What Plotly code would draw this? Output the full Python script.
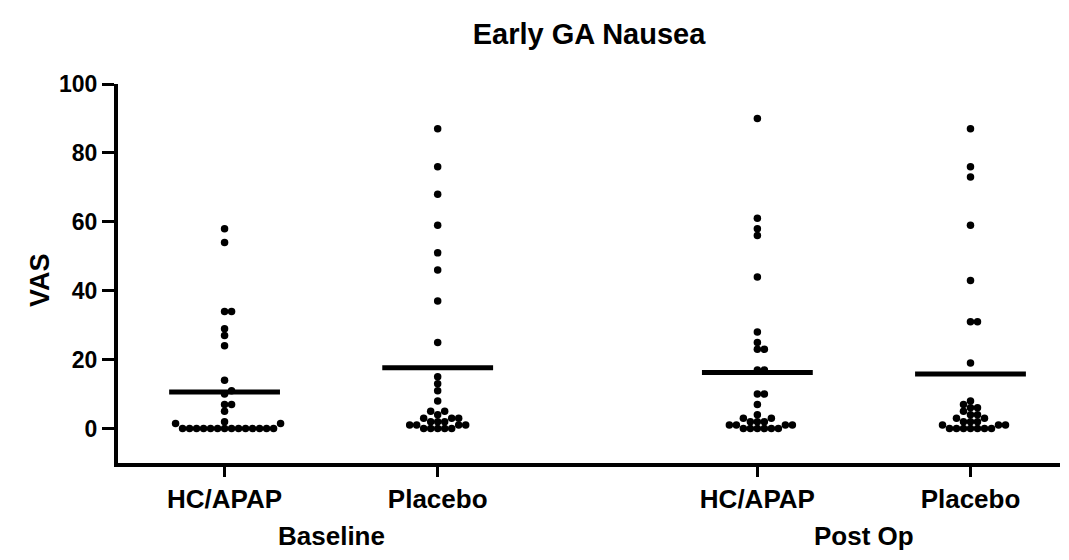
import plotly.graph_objects as go

# Column layout
categories = ["HC/APAP", "Placebo", "HC/APAP", "Placebo"]
periods = ["Baseline", "Post Op"]
positions = [1.0, 2.0, 3.5, 4.5]
period_centers = [1.5, 4.0]
y_ticks = [0, 20, 40, 60, 80, 100]

# VAS scores per subject
baseline_hcapap = [58, 54, 34, 34, 29, 27, 24, 14, 11, 10, 7, 7, 5, 2, 1.5, 1.5,
                   0, 0, 0, 0, 0, 0, 0, 0, 0, 0, 0, 0, 0, 0]
baseline_placebo = [87, 76, 68, 59, 51, 46, 37, 25, 15, 13, 11, 8, 5, 5, 4, 3, 3, 3,
                    2, 2, 2, 1, 1, 1, 1, 0, 0, 0, 0, 0]
postop_hcapap = [90, 61, 58, 56, 44, 28, 25, 23, 23, 17, 17, 10, 10, 7, 4, 3, 3, 2,
                 2, 2, 1, 1, 1, 1, 0, 0, 0, 0, 0, 0]
postop_placebo = [87, 76, 73, 59, 43, 31, 31, 19, 8, 7, 6, 6, 5, 4, 4, 3, 3, 2, 2, 2,
                  1, 1, 1, 0, 0, 0, 0, 0, 0, 0]

groups = [baseline_hcapap, baseline_placebo, postop_hcapap, postop_placebo]

W, H = 1069, 560
M = dict(l=118, r=9, t=84, b=97)
x_range = [0.5, 4.92]
y_range = [-10, 100]
px_per_x = (W - M["l"] - M["r"]) / (x_range[1] - x_range[0])
px_per_y = (H - M["t"] - M["b"]) / (y_range[1] - y_range[0])

FONT = "Liberation Sans, Arial, sans-serif"


def swarm_offsets(values, step_px=3.5, min_dist_px=6.8):
    """Simple beeswarm: place each point at the nearest free horizontal slot."""
    placed = []
    offsets = [0.0] * len(values)
    for i in sorted(range(len(values)), key=lambda j: values[j]):
        yp = values[i] * px_per_y
        k = 0
        while True:
            n = (k + 1) // 2
            xp = n * step_px * (1 if k % 2 else -1)
            if all((xp - px) ** 2 + (yp - py) ** 2 >= min_dist_px ** 2 for px, py in placed):
                break
            k += 1
        placed.append((xp, yp))
        offsets[i] = xp / px_per_x
    return offsets


fig = go.Figure()

for pos, vals in zip(positions, groups):
    offs = swarm_offsets(vals)
    fig.add_trace(go.Scatter(
        x=[pos + o for o in offs], y=vals, mode="markers",
        marker=dict(color="black", size=7.5, line=dict(width=0)),
        showlegend=False, hoverinfo="y",
    ))
    mean = sum(vals) / len(vals)
    fig.add_trace(go.Scatter(
        x=[pos - 0.26, pos + 0.26], y=[mean, mean], mode="lines",
        line=dict(color="black", width=5), showlegend=False, hoverinfo="skip",
    ))

plot_h = H - M["t"] - M["b"]
plot_w = W - M["l"] - M["r"]

for cx, label in zip(period_centers, periods):
    fig.add_annotation(
        x=cx, xref="x", y=-(536 - (H - M["b"])) / plot_h, yref="paper",
        yanchor="middle", text=label, showarrow=False,
        font=dict(family=FONT, size=26, color="black", weight="bold"),
    )

fig.add_annotation(
    x=(40 - M["l"]) / plot_w, xref="paper", xanchor="center",
    y=((H - M["b"]) - 280) / plot_h, yref="paper", yanchor="middle",
    text="VAS", textangle=-90, showarrow=False,
    font=dict(family=FONT, size=27, color="black", weight="bold"),
)

fig.update_layout(
    width=W, height=H, margin=M,
    paper_bgcolor="white", plot_bgcolor="white",
    title=dict(text="Early GA Nausea", x=589 / W, xanchor="center", y=1 - 34 / H,
               yanchor="middle",
               font=dict(family=FONT, size=29, color="black", weight="bold")),
    xaxis=dict(
        range=x_range, tickmode="array", tickvals=positions, ticktext=categories,
        showline=True, linecolor="black", linewidth=4, ticks="outside",
        tickwidth=3, ticklen=10, tickcolor="black", showgrid=False, zeroline=False,
        tickfont=dict(family=FONT, size=26, color="black", weight="bold"),
    ),
    yaxis=dict(
        range=y_range, tickmode="array", tickvals=y_ticks,
        showline=True, linecolor="black", linewidth=4, ticks="outside",
        tickwidth=3, ticklen=12, tickcolor="black", showgrid=False, zeroline=False,
        tickfont=dict(family=FONT, size=23, color="black", weight="bold"),
    ),
)

fig.write_html("out.html")
